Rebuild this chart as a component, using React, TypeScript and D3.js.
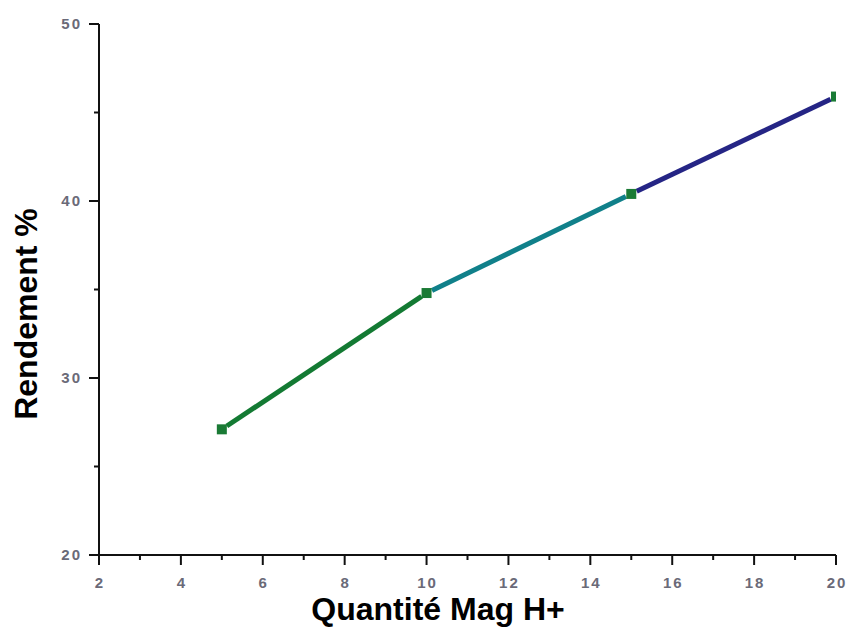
import React from "react";
import * as d3 from "d3";

const xValues = [5, 10, 15, 20];
const yValues = [27.1, 34.8, 40.4, 45.9];
const segmentColors = ["#137a33", "#10808a", "#252585"];
const xTicks = [2, 4, 6, 8, 10, 12, 14, 16, 18, 20];
const xMinorTicks = [3, 5, 7, 9, 11, 13, 15, 17, 19];
const yTicks = [20, 30, 40, 50];
const yMinorTicks = [25, 35, 45];

const W = 849;
const H = 627;
const M = { left: 99, right: 836, top: 24, bottom: 555 };

export default function App() {
  const x = d3.scaleLinear().domain([2, 20]).range([M.left, M.right]);
  const y = d3.scaleLinear().domain([20, 50]).range([M.bottom, M.top]);
  const pts = xValues.map((v, i) => [x(v), y(yValues[i])] as [number, number]);
  const line = d3.line<[number, number]>();
  const tickFont = "'Liberation Sans', Arial, sans-serif";

  const segs = pts.slice(0, -1).map((p, i) => {
    const q = pts[i + 1];
    const dx = q[0] - p[0], dy = q[1] - p[1];
    const len = Math.hypot(dx, dy);
    const g = 6;
    const a: [number, number] = [p[0] + (dx / len) * g, p[1] + (dy / len) * g];
    const b: [number, number] = [q[0] - (dx / len) * g, q[1] - (dy / len) * g];
    return { d: line([a, b]) as string, color: segmentColors[i] };
  });

  return (
    <svg width={W} height={H} style={{ position: "absolute", left: 0, top: 0, background: "#fff" }}>
      <defs>
        <clipPath id="plotClip">
          <rect x={M.left} y={0} width={M.right - M.left} height={M.bottom} />
        </clipPath>
      </defs>
      {/* axes */}
      <line x1={M.left} x2={M.left} y1={M.top} y2={M.bottom} stroke="#111" strokeWidth={2} />
      <line x1={M.left} x2={M.right} y1={M.bottom} y2={M.bottom} stroke="#111" strokeWidth={2} />
      {yTicks.map((t) => (
        <g key={"yt" + t}>
          <line x1={M.left - 10} x2={M.left} y1={y(t)} y2={y(t)} stroke="#111" strokeWidth={2} />
          <text x={M.left - 17} y={y(t)} dy="0.36em" textAnchor="end" fontFamily={tickFont}
            fontSize={15} fontWeight="bold" fill="#6a6a78" letterSpacing={2}>{t}</text>
        </g>
      ))}
      {yMinorTicks.map((t) => (
        <line key={"ym" + t} x1={M.left - 5} x2={M.left} y1={y(t)} y2={y(t)} stroke="#111" strokeWidth={2} />
      ))}
      {xTicks.map((t) => (
        <g key={"xt" + t}>
          <line x1={x(t)} x2={x(t)} y1={M.bottom} y2={M.bottom + 10} stroke="#111" strokeWidth={2} />
          <text x={x(t) + 1} y={M.bottom + 33} textAnchor="middle" fontFamily={tickFont}
            fontSize={15} fontWeight="bold" fill="#6a6a78" letterSpacing={2}>{t}</text>
        </g>
      ))}
      {xMinorTicks.map((t) => (
        <line key={"xm" + t} x1={x(t)} x2={x(t)} y1={M.bottom} y2={M.bottom + 5} stroke="#111" strokeWidth={2} />
      ))}
      <g clipPath="url(#plotClip)">
        {segs.map((s, i) => (
          <path key={"s" + i} d={s.d} stroke={s.color} strokeWidth={5} fill="none" />
        ))}
        {pts.map((p, i) => (
          <rect key={"m" + i} x={p[0] - 5} y={p[1] - 5} width={10} height={10} fill="#1a7a35" />
        ))}
      </g>
      <text x={438} y={620} textAnchor="middle" fontFamily={tickFont} fontSize={32} fontWeight="bold" fill="#000">
        Quantité Mag H+
      </text>
      <text transform={`translate(37,314) rotate(-90)`} textAnchor="middle" fontFamily={tickFont}
        fontSize={32} fontWeight="bold" fill="#000">
        Rendement %
      </text>
    </svg>
  );
}
